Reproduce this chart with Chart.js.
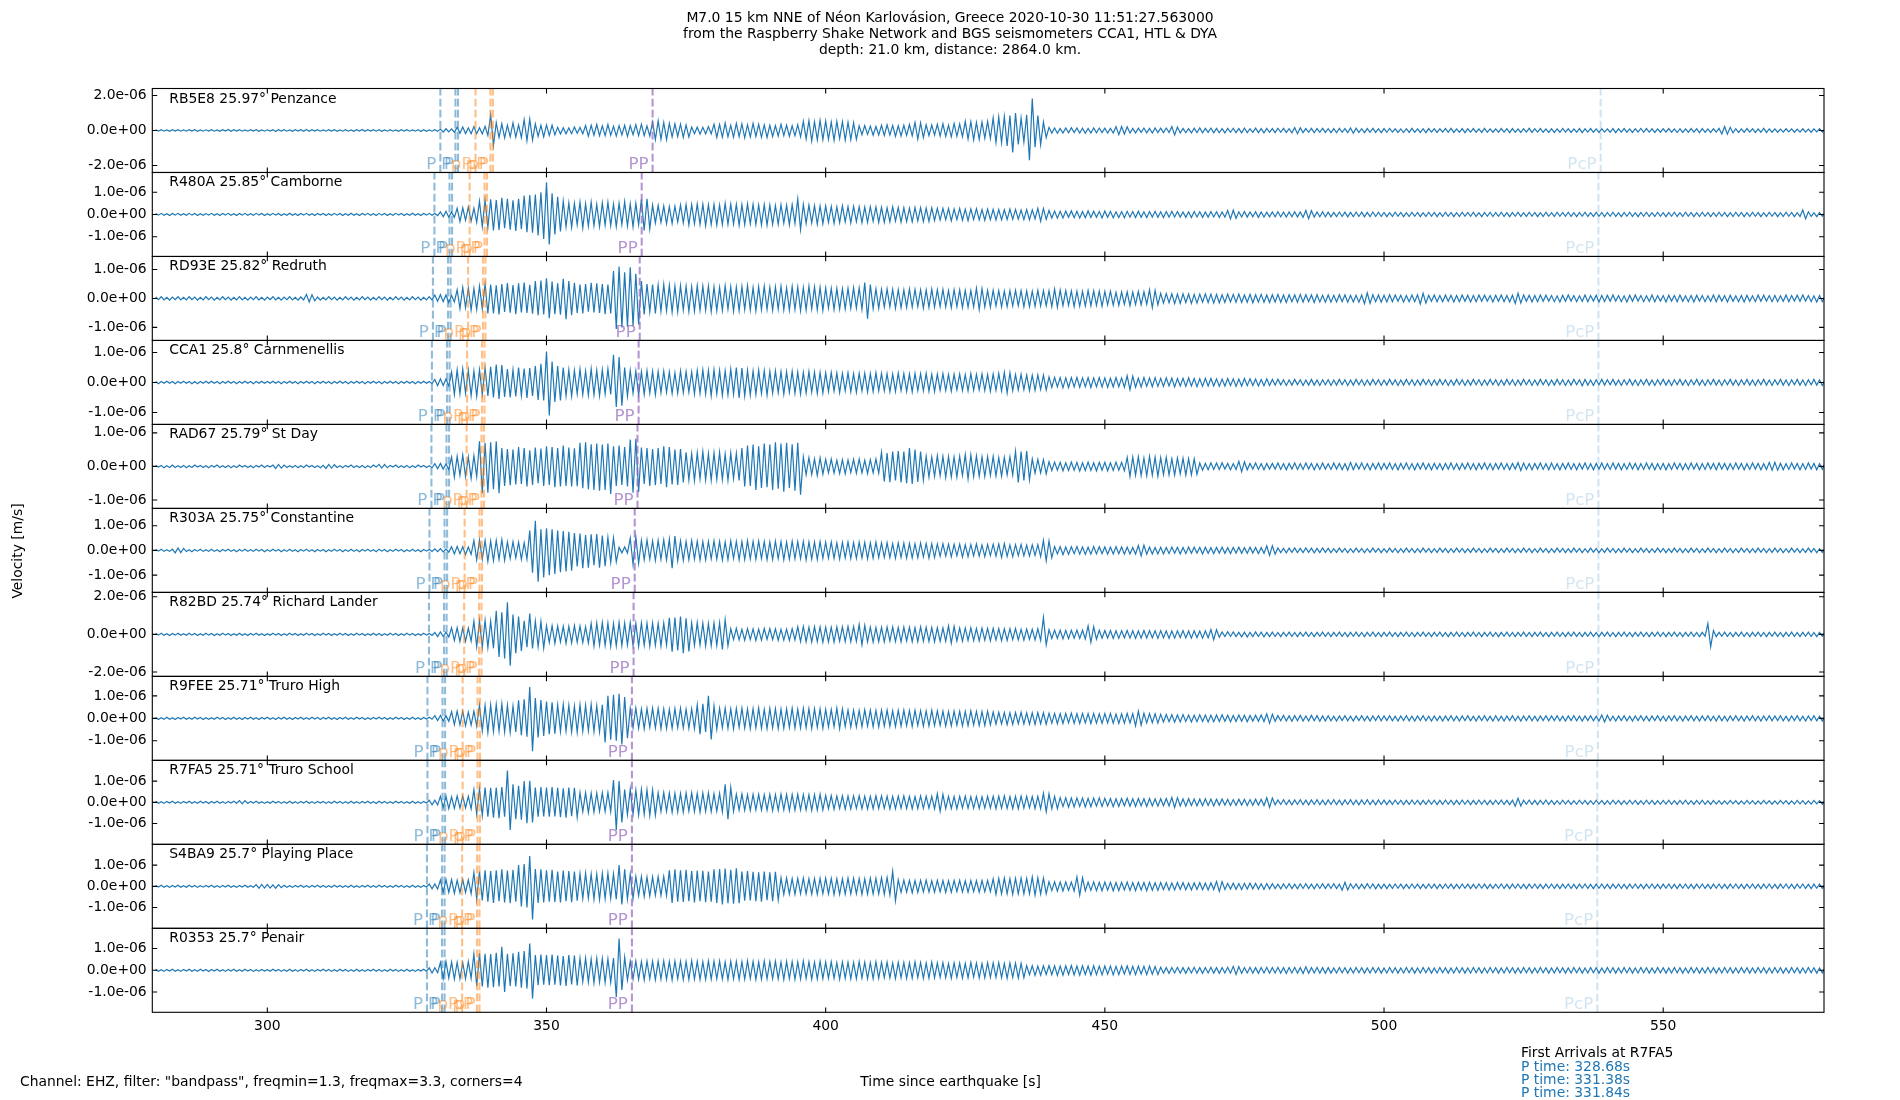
<!DOCTYPE html>
<html><head><meta charset="utf-8">
<script src="https://cdn.jsdelivr.net/npm/chart.js@4.4.1/dist/chart.umd.min.js"></script>
<style>html,body{margin:0;padding:0;background:#fff;}#wrap{position:relative;width:1900px;height:1100px;}canvas{display:block;}</style>
</head><body><div id="wrap"><canvas id="c" width="1900" height="1100"></canvas></div>
<script>
// ---------------- data ----------------
const T0 = 280, DT = 0.5;            // sample grid of the traces [s]
const AMP_UNIT = 1e-8;               // trace values are in 1e-8 m/s
const codes = ["RB5E8","R480A","RD93E","CCA1","RAD67","R303A","R82BD","R9FEE","R7FA5","S4BA9","R0353"];
const distances = ["25.97","25.85","25.82","25.8","25.79","25.75","25.74","25.71","25.71","25.7","25.7"];
const places = ["Penzance","Camborne","Redruth","Carnmenellis","St Day","Constantine","Richard Lander","Truro High","Truro School","Playing Place","Penair"];
const yLimits = [240,189,145,140,125,170,223,187,198,198,193];
const yTickValues = [[-200,0,200],[-100,0,100],[-100,0,100],[-100,0,100],[-100,0,100],[-100,0,100],[-200,0,200],[-100,0,100],[-100,0,100],[-100,0,100],[-100,0,100]];
const xTickValues = [300,350,400,450,500,550];
const xMin = 279.4, xMax = 578.8;

const P_first  = [330.99,329.93,329.66,329.48,329.39,329.04,328.95,328.68,328.68,328.59,328.59];
const P_second = [333.69,332.63,332.36,332.18,332.09,331.74,331.65,331.38,331.38,331.29,331.29];
const P_third  = [334.15,333.09,332.82,332.64,332.55,332.20,332.11,331.84,331.84,331.75,331.75];
const pP_first  = [337.29,336.23,335.96,335.78,335.69,335.34,335.25,334.98,334.98,334.89,334.89];
const pP_second = [339.96,338.90,338.63,338.45,338.36,338.01,337.92,337.65,337.65,337.56,337.56];
const pP_third  = [340.40,339.34,339.07,338.89,338.80,338.45,338.36,338.09,338.09,338.00,338.00];
const PP_times  = [369.0,367.05,366.7,366.5,366.3,365.8,365.6,365.3,365.3,365.3,365.3];
const PcP_times = [538.8,538.4,538.4,538.4,538.4,538.4,538.4,538.3,538.2,538.2,538.2];

const titleLines = ["M7.0 15 km NNE of Néon Karlovásion, Greece 2020-10-30 11:51:27.563000",
  "from the Raspberry Shake Network and BGS seismometers CCA1, HTL & DYA",
  "depth: 21.0 km, distance: 2864.0 km."];
const arrivalsTitle = "First Arrivals at R7FA5";
const arrivalTimes = ["328.68","331.38","331.84"];

const trace_RB5E8 = [
4,-3,5,-4,3,-5,4,-3,5,-4,3,-4,5,-3,4,-5,3,-4,4,-3,
5,-4,3,-5,4,-3,6,-5,4,-3,5,-4,3,-4,5,-3,4,-5,3,-4,
4,-3,5,-6,4,-3,5,-4,3,-5,4,-3,5,-4,6,-5,4,-3,5,-4,
3,-4,5,-3,4,-5,3,-4,5,-4,3,-5,4,-3,6,-5,4,-3,5,-4,
4,-5,3,-4,5,-4,3,-5,4,-3,5,-4,3,-4,5,-6,4,-5,3,-4,
4,-5,8,-9,10,-8,9,-10,18,-16,20,-17,15,-19,22,-18,16,-20,24,-28,
90,-85,45,-40,38,-42,30,-36,44,-38,32,-40,62,-58,65,-55,38,-34,30,-36,
32,-28,30,-25,18,-20,16,-19,15,-18,20,-16,17,-19,28,-32,30,-27,34,-30,
26,-30,34,-28,24,-32,28,-25,30,-34,27,-24,32,-29,36,-30,26,-32,48,-52,
55,-50,46,-52,40,-36,38,-34,36,-40,32,-38,20,-18,19,-21,18,-20,22,-19,
36,-40,34,-38,42,-36,30,-38,40,-35,38,-42,33,-37,40,-34,36,-39,32,-40,
30,-34,28,-32,35,-29,31,-33,27,-30,33,-36,52,-48,56,-60,50,-54,58,-52,
54,-50,48,-56,52,-46,50,-55,47,-52,44,-50,26,-24,28,-22,25,-27,23,-26,
30,-28,32,-26,29,-33,27,-31,30,-28,34,-30,46,-50,44,-40,32,-29,31,-27,
35,-32,38,-34,30,-36,40,-33,37,-35,52,-48,50,-54,46,-50,48,-44,52,-46,
72,-68,77,-70,80,-88,85,-125,100,-80,72,-66,90,-170,183,-95,85,-80,48,-40,
18,-15,14,-16,12,-15,14,-13,16,-12,15,-14,13,-16,12,-14,15,-13,14,-12,
13,-15,12,-14,22,-24,23,-20,21,-14,12,-15,13,-11,14,-13,12,-14,15,-12,
13,-12,14,-11,22,-25,20,-14,12,-13,11,-14,13,-12,15,-13,12,-11,14,-13,
12,-13,11,-14,12,-10,13,-12,11,-13,14,-12,10,-11,13,-12,11,-14,12,-10,
11,-12,13,-10,12,-11,10,-13,16,-18,15,-12,11,-10,12,-13,11,-10,12,-11,
10,-12,11,-13,12,-10,11,-12,14,-16,13,-11,10,-12,11,-10,12,-11,10,-12,
11,-10,12,-9,10,-11,9,-12,10,-11,12,-10,9,-11,10,-12,11,-9,10,-11,
10,-9,11,-10,12,-11,9,-10,11,-12,10,-9,11,-10,9,-11,12,-10,9,-10,
9,-10,11,-9,10,-12,11,-10,9,-11,10,-9,12,-11,10,-9,11,-10,9,-11,
10,-11,9,-10,12,-9,10,-11,9,-10,11,-12,10,-9,11,-10,9,-11,10,-9,
9,-10,11,-12,10,-9,11,-10,9,-11,10,-9,12,-10,11,-9,10,-11,9,-10,
10,-9,11,-10,9,-12,10,-11,9,-10,11,-9,10,-12,11,-10,9,-11,10,-9,
12,-20,23,-21,18,-13,10,-11,9,-10,11,-9,10,-11,9,-10,12,-11,9,-10,
9,-10,8,-9,10,-8,9,-10,8,-9,10,-9,8,-10,9,-8,10,-9,8,-9];

const trace_R480A = [
4,-3,5,-4,3,-5,4,-3,5,-4,3,-4,5,-3,4,-5,3,-4,4,-3,
5,-4,3,-5,4,-3,5,-4,3,-5,4,-3,5,-4,3,-4,5,-3,4,-5,
3,-4,5,-3,4,-5,3,-4,5,-4,3,-5,4,-3,5,-4,3,-5,4,-3,
4,-5,3,-4,5,-3,4,-5,3,-4,5,-4,3,-5,4,-3,5,-4,3,-5,
5,-3,4,-5,3,-4,5,-3,4,-5,3,-4,5,-4,3,-5,4,-3,5,-4,
4,-5,12,-10,14,-12,11,-13,28,-32,30,-26,34,-30,28,-35,60,-55,65,-58,
68,-72,65,-70,75,-62,70,-68,64,-74,70,-66,85,-80,88,-82,90,-95,100,-110,
145,-135,95,-90,80,-76,60,-55,52,-58,50,-46,55,-60,48,-52,56,-50,45,-54,
52,-48,55,-50,46,-54,50,-45,58,-52,48,-55,50,-46,68,-72,70,-65,42,-38,
40,-36,38,-42,35,-40,37,-34,42,-38,44,-47,45,-42,48,-44,46,-50,43,-45,
45,-48,42,-46,50,-44,47,-43,45,-49,44,-46,48,-42,46,-45,43,-47,44,-48,
42,-45,40,-44,43,-39,41,-46,44,-40,70,-68,45,-40,42,-38,40,-44,38,-41,
38,-35,36,-40,34,-37,39,-33,35,-38,36,-32,34,-37,33,-36,35,-31,34,-36,
32,-35,30,-33,34,-29,31,-34,30,-32,28,-33,31,-29,30,-32,28,-31,30,-27,
27,-25,28,-24,26,-29,25,-23,27,-26,24,-28,25,-23,26,-24,22,-26,24,-23,
23,-25,22,-24,21,-23,24,-22,23,-21,20,-23,22,-24,21,-20,28,-30,27,-22,
18,-16,15,-17,14,-16,15,-13,16,-15,14,-16,13,-15,16,-14,15,-13,14,-16,
15,-13,14,-15,12,-14,13,-15,14,-12,13,-14,15,-13,12,-14,13,-12,14,-13,
12,-14,13,-12,14,-11,13,-12,11,-13,12,-14,13,-11,12,-13,11,-12,13,-11,
12,-13,11,-12,18,-20,19,-17,12,-11,13,-12,11,-10,12,-13,11,-12,10,-11,
11,-10,12,-11,10,-12,11,-10,12,-11,11,-13,18,-19,17,-12,11,-10,12,-11,
10,-11,9,-10,11,-9,10,-11,9,-10,11,-9,10,-11,9,-10,11,-9,10,-9,
9,-10,8,-9,10,-8,9,-10,8,-9,10,-8,9,-10,8,-9,10,-8,9,-10,
8,-9,10,-8,9,-10,8,-9,10,-8,9,-8,10,-9,8,-10,9,-8,10,-9,
9,-8,10,-9,8,-10,9,-8,10,-9,8,-9,10,-8,9,-10,8,-9,10,-8,
8,-9,10,-8,9,-8,10,-9,8,-10,9,-8,10,-9,8,-9,10,-8,9,-10,
9,-8,10,-9,8,-10,9,-8,10,-9,8,-10,9,-8,10,-9,8,-9,10,-8,
8,-10,9,-8,10,-9,8,-9,10,-8,9,-10,8,-9,10,-8,9,-10,8,-9,
10,-8,9,-10,8,-9,10,-8,9,-10,8,-9,10,-8,9,-10,8,-9,10,-8,
9,-10,8,-9,10,-8,9,-10,8,-9,20,-19,12,-9,8,-10,9,-8,10,-9];

const trace_RD93E = [
5,-4,6,-5,4,-6,5,-4,6,-5,4,-5,6,-4,5,-6,4,-5,6,-4,
5,-6,4,-5,6,-4,5,-6,4,-5,6,-5,4,-6,5,-4,6,-5,4,-6,
5,-4,6,-5,4,-6,5,-4,6,-5,4,-6,5,-5,14,-12,13,-8,5,-6,
4,-5,6,-4,5,-6,4,-5,6,-4,5,-6,4,-5,6,-4,5,-6,4,-5,
6,-4,5,-6,4,-5,6,-4,5,-6,4,-5,6,-4,5,-6,4,-5,6,-5,
12,-10,13,-11,12,-14,10,-12,30,-35,38,-32,36,-40,34,-38,42,-36,50,-52,
48,-52,45,-55,50,-47,53,-49,46,-54,52,-48,55,-50,47,-53,60,-58,62,-55,
70,-68,58,-54,52,-56,68,-72,60,-58,54,-50,48,-52,50,-46,54,-48,52,-50,
50,-54,48,-52,95,-105,110,-100,90,-98,108,-95,85,-90,60,-55,50,-46,48,-52,
46,-44,48,-42,45,-47,43,-46,44,-40,42,-45,40,-43,44,-41,42,-40,43,-45,
40,-42,38,-41,43,-37,40,-44,39,-42,41,-38,44,-40,37,-42,40,-39,42,-38,
38,-41,40,-37,42,-39,36,-40,41,-38,39,-42,37,-40,42,-36,40,-39,38,-41,
36,-33,35,-38,34,-37,33,-36,35,-34,37,-33,36,-38,55,-70,48,-35,33,-34,
32,-30,33,-29,31,-34,30,-32,29,-31,33,-30,31,-28,30,-33,29,-31,32,-30,
30,-28,31,-29,27,-32,30,-28,29,-31,28,-30,27,-29,35,-38,34,-29,28,-30,
28,-26,27,-29,25,-28,27,-26,28,-25,27,-29,26,-28,25,-27,28,-26,27,-25,
26,-28,32,-30,29,-25,27,-24,26,-28,25,-27,24,-26,27,-25,26,-24,25,-27,
24,-22,25,-23,21,-24,22,-20,23,-25,22,-21,24,-22,23,-20,30,-32,28,-22,
18,-16,17,-15,16,-18,15,-17,16,-14,15,-17,14,-16,15,-13,16,-14,15,-16,
14,-15,13,-14,15,-12,14,-13,15,-14,12,-13,14,-15,13,-12,14,-13,12,-14,
13,-12,14,-13,12,-14,13,-11,12,-13,14,-12,13,-11,12,-14,13,-12,11,-13,
12,-13,11,-12,13,-11,12,-13,11,-12,11,-13,12,-18,19,-17,13,-11,12,-13,
11,-12,13,-11,12,-10,11,-12,10,-11,12,-11,13,-19,18,-16,11,-10,12,-11,
10,-11,12,-10,11,-12,10,-11,12,-10,11,-12,10,-11,12,-10,11,-9,10,-12,
11,-10,12,-11,10,-12,11,-17,18,-16,12,-10,11,-12,10,-11,12,-10,11,-9,
10,-11,9,-12,11,-10,12,-9,10,-11,9,-10,12,-11,10,-9,11,-12,10,-11,
11,-10,12,-9,10,-11,9,-12,11,-10,12,-9,10,-11,9,-10,12,-11,10,-9,
10,-12,11,-9,10,-11,12,-10,9,-11,10,-12,11,-9,10,-11,9,-10,12,-11,
11,-9,10,-12,11,-10,9,-11,10,-12,11,-10,9,-11,12,-10,11,-9,10,-11,
10,-11,9,-10,12,-11,10,-9,11,-10,12,-9,10,-11,9,-12,10,-11,9,-10];

const trace_CCA1 = [
3,-4,3,-3,4,-3,3,-4,3,-3,4,-3,3,-4,3,-4,3,-3,4,-3,
4,-3,3,-4,3,-3,4,-3,3,-4,3,-3,4,-3,3,-4,3,-3,4,-3,
3,-3,4,-3,3,-4,3,-3,4,-3,3,-4,3,-3,4,-3,3,-4,3,-3,
4,-3,3,-4,3,-3,4,-3,3,-4,3,-3,4,-3,3,-4,3,-3,4,-3,
3,-4,3,-3,4,-3,3,-4,3,-3,4,-3,3,-4,3,-3,4,-3,3,-4,
10,-11,12,-10,11,-12,35,-40,42,-38,45,-36,40,-44,38,-46,42,-40,48,-45,
52,-50,60,-55,58,-48,45,-50,42,-47,50,-44,46,-52,48,-45,55,-58,62,-60,
103,-110,70,-65,55,-60,50,-45,42,-46,40,-38,44,-40,38,-42,45,-41,40,-44,
42,-38,45,-40,92,-82,85,-78,50,-45,40,-36,38,-42,36,-40,39,-35,37,-41,
36,-34,38,-33,35,-37,32,-36,38,-34,36,-32,35,-38,40,-36,42,-38,40,-44,
42,-38,40,-43,38,-41,44,-39,50,-52,48,-45,40,-42,38,-40,41,-37,39,-42,
37,-35,38,-34,36,-39,35,-33,37,-36,34,-38,33,-35,36,-32,34,-37,33,-35,
32,-30,33,-29,31,-34,30,-28,32,-31,29,-33,30,-28,31,-32,29,-30,32,-28,
30,-28,29,-31,28,-30,31,-27,29,-30,28,-31,30,-27,29,-28,30,-29,27,-30,
28,-26,29,-27,26,-29,27,-25,28,-27,26,-28,29,-26,27,-25,28,-27,26,-29,
28,-26,30,-28,33,-35,32,-27,26,-25,27,-24,25,-27,24,-26,25,-23,24,-25,
18,-16,17,-15,16,-18,15,-17,16,-15,17,-16,15,-14,16,-17,15,-14,16,-15,
15,-16,14,-15,16,-14,15,-16,22,-24,21,-16,14,-15,16,-13,15,-14,16,-13,
14,-13,15,-12,14,-15,13,-12,14,-13,15,-12,13,-14,12,-13,14,-12,13,-12,
12,-13,11,-12,13,-11,12,-13,11,-12,13,-11,12,-10,11,-12,10,-11,12,-10,
10,-9,11,-8,9,-10,8,-9,10,-8,9,-10,8,-9,10,-9,8,-10,9,-8,
9,-10,8,-9,10,-8,9,-10,8,-9,10,-8,9,-10,8,-9,10,-8,9,-10,
8,-9,10,-8,9,-10,8,-9,10,-8,9,-10,8,-9,10,-8,9,-10,8,-9,
10,-8,9,-10,8,-9,10,-8,9,-10,8,-9,10,-8,9,-10,8,-9,10,-8,
9,-10,8,-9,10,-8,9,-10,8,-9,10,-8,9,-10,8,-9,10,-8,9,-10,
8,-9,10,-8,9,-10,8,-9,10,-8,9,-11,10,-9,8,-10,9,-8,10,-9,
9,-8,10,-9,8,-10,9,-8,10,-9,8,-10,9,-8,10,-9,8,-10,9,-8,
10,-9,8,-10,9,-8,10,-9,8,-10,9,-8,10,-9,8,-10,9,-8,10,-9,
8,-10,9,-8,10,-9,8,-10,9,-8,10,-9,8,-10,9,-8,10,-9,8,-10,
9,-8,10,-9,8,-10,9,-8,10,-9,8,-10,9,-8,10,-9,8,-10,9,-8];

const trace_RAD67 = [
3,-2,3,-4,2,-3,4,-3,2,-3,3,-4,2,-3,4,-2,3,-3,2,-4,
3,-2,4,-3,2,-3,3,-4,2,-3,4,-2,3,-3,2,-4,3,-2,4,-3,
3,-2,4,-6,6,-5,4,-3,2,-3,3,-4,2,-3,4,-2,3,-3,2,-4,
3,-6,6,-5,5,-3,2,-4,3,-2,4,-3,2,-3,3,-4,2,-3,4,-2,
6,-5,6,-4,3,-2,4,-3,2,-3,3,-4,2,-3,4,-2,3,-3,2,-4,
8,-7,9,-8,7,-9,28,-32,30,-26,34,-30,28,-35,32,-30,75,-80,70,-78,
72,-68,75,-80,55,-58,52,-56,50,-54,58,-52,55,-60,48,-55,56,-50,53,-58,
60,-55,58,-62,55,-60,62,-58,56,-60,54,-59,70,-65,72,-68,66,-70,68,-72,
65,-70,68,-82,60,-58,62,-55,58,-60,80,-78,82,-76,56,-52,55,-58,52,-56,
55,-52,60,-62,58,-54,50,-55,52,-48,42,-40,38,-42,40,-37,44,-40,38,-41,
40,-38,42,-39,37,-41,40,-36,39,-42,55,-60,62,-58,65,-70,60,-64,68,-62,
65,-70,72,-66,68,-75,70,-64,66,-72,70,-84,28,-25,26,-24,22,-27,25,-23,
21,-19,22,-20,18,-21,20,-22,19,-18,21,-20,22,-19,18,-21,20,-19,22,-20,
42,-45,40,-47,44,-42,46,-48,44,-50,55,-52,50,-46,44,-41,30,-32,28,-30,
32,-28,30,-33,29,-31,28,-32,30,-27,35,-37,34,-30,31,-29,28,-30,29,-27,
30,-28,26,-29,27,-25,28,-26,45,-48,44,-42,46,-40,22,-20,21,-19,20,-22,
14,-12,13,-11,12,-13,11,-12,13,-11,12,-14,11,-12,13,-12,11,-13,12,-11,
12,-13,11,-12,13,-11,12,-13,27,-30,28,-26,29,-27,25,-28,30,-26,27,-29,
26,-24,27,-25,23,-26,25,-22,24,-26,23,-25,22,-24,10,-11,9,-10,11,-9,
10,-9,11,-8,9,-10,8,-9,15,-16,14,-10,9,-8,10,-9,8,-10,9,-8,
9,-8,10,-9,8,-10,9,-8,10,-9,8,-9,10,-8,9,-10,8,-9,10,-8,
8,-9,10,-8,9,-10,8,-11,12,-10,9,-8,10,-9,8,-10,9,-8,10,-9,
9,-8,10,-9,8,-10,9,-8,10,-9,8,-10,9,-8,10,-9,8,-10,9,-8,
8,-10,9,-8,10,-9,8,-10,9,-8,10,-9,8,-10,9,-8,10,-9,8,-10,
9,-8,10,-9,8,-10,9,-8,11,-12,10,-9,8,-10,9,-8,10,-9,8,-10,
10,-9,8,-10,9,-8,10,-9,8,-10,9,-8,10,-9,8,-10,9,-8,10,-9,
8,-9,10,-8,9,-10,8,-9,10,-8,9,-10,8,-9,10,-8,9,-10,8,-9,
9,-10,8,-9,10,-8,9,-10,8,-9,10,-8,9,-10,8,-9,10,-8,9,-10,
10,-8,9,-10,8,-9,10,-8,9,-10,8,-9,10,-8,9,-10,8,-9,12,-11,
12,-11,9,-10,8,-9,10,-8,9,-10,8,-9,10,-8,9,-10,8,-9,10,-8];

const trace_R303A = [
4,-3,5,-4,3,-4,5,-10,10,-9,8,-4,3,-5,4,-3,5,-4,3,-4,
5,-4,3,-5,4,-3,5,-4,3,-5,4,-3,5,-4,3,-4,5,-3,4,-5,
3,-4,5,-3,4,-5,3,-4,5,-4,3,-5,4,-3,5,-4,3,-5,4,-3,
4,-5,3,-4,5,-3,4,-5,3,-4,5,-4,3,-5,4,-3,5,-4,3,-5,
5,-3,4,-5,3,-4,5,-3,4,-5,3,-4,5,-4,3,-5,4,-3,5,-4,
6,-5,7,-6,5,-7,15,-14,16,-13,15,-17,14,-16,40,-38,42,-36,40,-44,
38,-42,40,-36,44,-40,34,-32,35,-30,33,-36,31,-35,80,-90,120,-127,85,-110,
90,-100,85,-95,80,-88,78,-85,75,-82,70,-65,68,-72,62,-70,65,-60,66,-70,
60,-64,52,-48,50,-46,12,-10,14,-11,50,-57,55,-52,40,-38,42,-36,38,-41,
40,-36,42,-38,45,-72,58,-42,38,-40,36,-38,40,-35,37,-39,35,-38,36,-34,
38,-35,36,-39,34,-37,38,-33,36,-38,35,-37,39,-34,36,-35,38,-33,35,-37,
34,-36,37,-33,35,-38,33,-36,37,-34,35,-33,36,-38,34,-35,33,-37,35,-32,
33,-31,34,-32,30,-35,32,-30,34,-33,31,-32,33,-30,32,-34,30,-31,33,-29,
30,-28,31,-29,27,-32,30,-28,29,-31,28,-30,27,-29,30,-26,28,-31,27,-29,
26,-24,27,-23,25,-26,24,-22,25,-27,23,-25,24,-22,26,-23,22,-25,24,-21,
25,-23,26,-28,27,-24,22,-25,23,-21,24,-22,21,-23,22,-20,23,-25,40,-42,
38,-30,16,-14,15,-17,14,-16,15,-13,16,-15,14,-16,13,-15,16,-14,15,-13,
14,-15,13,-14,15,-13,14,-15,13,-14,12,-15,20,-22,21,-15,13,-14,12,-14,
13,-14,12,-13,14,-12,13,-14,12,-13,14,-12,13,-11,12,-14,13,-12,11,-13,
12,-11,13,-12,11,-13,12,-11,13,-12,11,-12,13,-11,12,-13,11,-12,18,-20,
19,-15,10,-9,8,-10,9,-8,10,-9,8,-9,10,-8,9,-10,8,-9,10,-8,
8,-9,7,-8,9,-7,8,-9,7,-8,9,-7,8,-9,7,-8,9,-7,8,-9,
7,-8,9,-7,8,-9,7,-8,9,-7,8,-9,7,-8,9,-7,8,-9,7,-8,
9,-7,8,-9,7,-8,9,-7,8,-9,7,-8,9,-7,8,-9,7,-8,9,-7,
8,-9,7,-8,9,-7,8,-9,7,-8,9,-7,8,-9,7,-8,9,-7,8,-9,
7,-8,9,-7,8,-9,7,-8,9,-7,8,-9,7,-8,9,-7,8,-9,7,-8,
9,-7,8,-9,7,-8,9,-7,8,-9,7,-8,9,-7,8,-9,7,-8,9,-7,
8,-9,7,-8,9,-7,8,-9,7,-8,9,-7,8,-9,7,-8,9,-7,8,-9,
7,-8,9,-7,8,-9,7,-8,9,-7,8,-9,7,-8,9,-7,8,-9,7,-8,
9,-7,8,-9,7,-8,9,-7,8,-9,7,-8,9,-7,8,-9,7,-8,9,-7];

const trace_R82BD = [
5,-4,6,-5,4,-6,5,-4,6,-5,4,-5,6,-4,5,-6,4,-5,6,-4,
5,-6,4,-5,6,-4,5,-6,4,-5,6,-5,4,-6,5,-4,6,-5,4,-6,
4,-5,6,-4,5,-6,4,-5,6,-4,5,-6,4,-5,6,-4,5,-6,4,-5,
6,-4,5,-6,4,-5,6,-4,5,-6,4,-5,6,-4,5,-6,4,-5,6,-5,
5,-6,4,-5,6,-4,5,-6,4,-5,6,-4,5,-6,4,-5,6,-4,5,-6,
10,-12,13,-11,12,-14,35,-32,36,-38,34,-37,33,-36,70,-65,72,-68,75,-70,
70,-74,125,-120,118,-128,170,-166,105,-100,95,-88,72,-68,110,-75,70,-65,68,-72,
45,-42,46,-48,44,-40,43,-47,42,-45,46,-41,44,-43,40,-45,58,-62,60,-56,
62,-58,60,-64,57,-61,63,-59,60,-56,62,-60,58,-63,61,-57,59,-62,60,-58,
58,-62,60,-56,88,-92,90,-85,95,-100,86,-90,60,-58,62,-56,59,-61,57,-60,
60,-58,62,-80,78,-60,30,-28,32,-29,27,-31,30,-28,29,-32,28,-30,31,-27,
30,-28,29,-31,27,-30,28,-32,30,-29,40,-38,42,-39,37,-41,40,-38,39,-42,
38,-40,37,-41,39,-36,40,-38,42,-39,41,-37,53,-55,48,-40,38,-41,36,-39,
37,-40,38,-35,39,-37,36,-40,38,-35,37,-39,35,-38,40,-36,37,-38,36,-39,
35,-37,34,-36,44,-46,42,-35,33,-36,34,-32,35,-33,31,-34,33,-30,32,-34,
32,-30,31,-33,29,-32,30,-28,31,-29,27,-30,28,-26,27,-29,30,-32,90,-55,
25,-22,23,-21,22,-24,21,-23,22,-20,23,-21,22,-24,45,-42,40,-25,22,-20,
21,-19,20,-22,19,-21,20,-18,21,-20,19,-21,18,-20,21,-19,20,-18,19,-21,
20,-18,19,-21,18,-20,19,-17,20,-19,18,-20,19,-17,18,-20,19,-18,26,-28,
25,-15,13,-12,14,-11,13,-12,11,-13,12,-14,11,-12,13,-11,12,-13,11,-12,
12,-11,10,-12,11,-10,12,-11,10,-12,11,-10,12,-11,10,-12,11,-10,12,-11,
10,-12,11,-10,12,-11,10,-12,11,-10,12,-11,10,-12,11,-10,12,-11,10,-12,
11,-10,12,-11,10,-12,11,-10,12,-11,10,-12,11,-10,12,-11,10,-12,11,-10,
12,-11,10,-12,11,-10,12,-11,10,-12,11,-10,12,-11,10,-12,11,-10,12,-11,
10,-12,11,-10,12,-11,10,-12,11,-10,12,-11,10,-12,11,-10,12,-11,10,-12,
11,-10,12,-11,10,-12,11,-10,12,-11,10,-12,11,-10,12,-11,10,-12,11,-10,
12,-11,10,-12,11,-10,12,-11,10,-12,11,-10,12,-11,10,-12,11,-10,12,-11,
10,-12,11,-10,12,-11,10,-12,11,-10,12,-11,10,-12,11,-10,57,-66,20,-12,
11,-10,12,-11,10,-12,11,-10,12,-11,10,-12,11,-10,12,-11,10,-12,11,-10,
12,-11,10,-12,11,-10,12,-11,10,-12,11,-10,12,-11,10,-12,11,-10,12,-11];

const trace_R9FEE = [
4,-5,3,-4,5,-4,3,-5,4,-3,5,-4,3,-4,5,-3,4,-5,3,-4,
3,-4,5,-3,4,-5,3,-4,5,-4,3,-5,4,-3,5,-4,3,-5,4,-3,
5,-4,3,-5,4,-3,5,-4,3,-5,4,-3,5,-4,3,-4,5,-3,4,-5,
4,-3,5,-4,3,-5,4,-3,5,-4,3,-4,5,-3,4,-5,3,-4,4,-3,
5,-3,4,-5,3,-4,5,-3,4,-5,3,-4,5,-4,3,-5,4,-3,5,-4,
12,-10,13,-12,11,-13,30,-28,32,-29,31,-33,28,-30,32,-35,60,-55,58,-62,
60,-58,62,-56,64,-60,58,-62,55,-60,80,-75,85,-82,140,-146,90,-85,82,-78,
75,-70,72,-68,60,-58,62,-56,58,-60,55,-62,60,-57,58,-55,62,-59,56,-60,
60,-107,100,-95,105,-100,110,-116,95,-88,45,-42,46,-44,42,-47,44,-40,45,-43,
44,-46,42,-45,40,-44,43,-41,45,-42,40,-44,42,-46,60,-70,65,-60,100,-94,
55,-48,45,-42,46,-44,42,-47,44,-40,45,-43,41,-46,43,-42,46,-44,40,-45,
44,-42,43,-45,41,-44,42,-40,45,-43,40,-42,44,-41,43,-45,42,-40,41,-44,
40,-38,39,-37,45,-46,42,-36,37,-39,36,-38,35,-37,38,-34,36,-37,35,-38,
36,-34,37,-35,33,-36,35,-34,36,-33,34,-36,35,-32,34,-35,33,-34,36,-32,
33,-31,32,-34,30,-33,32,-30,31,-33,30,-32,33,-29,31,-32,30,-31,32,-29,
28,-26,27,-25,26,-28,25,-27,26,-24,27,-25,24,-26,25,-27,26,-24,25,-26,
23,-21,22,-24,21,-23,22,-20,23,-22,21,-23,22,-20,21,-23,22,-21,20,-22,
21,-20,22,-21,19,-22,20,-21,22,-20,21,-33,32,-30,22,-20,21,-19,20,-21,
18,-16,17,-15,16,-17,15,-16,17,-14,15,-16,14,-15,16,-14,15,-16,14,-15,
15,-14,16,-13,14,-15,13,-14,15,-13,14,-15,13,-12,14,-13,15,-14,20,-22,
18,-13,12,-11,13,-12,11,-13,12,-11,13,-12,11,-12,13,-11,12,-13,11,-12,
12,-11,10,-12,11,-10,12,-11,10,-12,11,-10,12,-11,10,-12,11,-10,12,-11,
11,-10,12,-11,10,-12,11,-10,12,-11,10,-12,11,-10,12,-11,10,-12,11,-10,
10,-12,11,-10,12,-11,10,-12,11,-10,12,-11,10,-12,11,-10,12,-11,10,-12,
12,-11,10,-12,11,-10,12,-11,10,-12,11,-10,12,-11,10,-12,11,-10,12,-11,
11,-10,12,-11,10,-12,11,-10,12,-11,10,-12,11,-10,12,-11,10,-12,15,-16,
14,-11,10,-12,11,-10,12,-11,10,-12,11,-10,12,-11,10,-12,11,-10,12,-11,
10,-12,11,-10,12,-11,10,-12,11,-10,12,-11,10,-12,11,-10,12,-11,10,-12,
12,-11,10,-12,11,-10,12,-11,10,-12,11,-10,12,-11,10,-12,11,-10,12,-11,
11,-10,12,-11,10,-12,11,-10,12,-11,10,-12,11,-10,12,-11,10,-12,11,-10];

const trace_R7FA5 = [
5,-4,3,-5,4,-3,5,-4,3,-5,4,-3,5,-4,3,-4,5,-3,4,-5,
4,-3,5,-4,3,-5,4,-3,5,-4,8,-7,8,-5,4,-3,5,-4,3,-5,
3,-4,5,-3,4,-5,3,-4,5,-4,3,-5,4,-3,5,-4,3,-5,4,-3,
4,-5,3,-4,5,-3,4,-5,3,-4,5,-4,3,-5,4,-3,5,-4,3,-5,
5,-3,4,-5,3,-4,5,-3,4,-5,3,-4,5,-4,3,-5,4,-3,10,-12,
10,-12,28,-25,27,-30,26,-28,30,-27,29,-26,28,-31,60,-55,65,-62,70,-68,
68,-72,70,-75,72,-68,150,-130,85,-80,78,-82,100,-98,102,-95,70,-68,72,-66,
70,-68,72,-66,68,-70,66,-72,70,-65,68,-70,46,-44,45,-48,43,-46,44,-42,
45,-43,46,-44,105,-130,100,-95,60,-58,62,-56,58,-60,61,-57,59,-62,58,-60,
45,-43,46,-42,44,-47,43,-45,42,-46,44,-41,45,-43,42,-46,44,-42,45,-43,
40,-42,42,-44,85,-80,70,-42,38,-36,39,-37,36,-38,37,-35,38,-36,35,-37,
37,-39,36,-38,38,-35,37,-39,36,-37,38,-35,37,-36,35,-38,36,-37,38,-35,
32,-30,31,-33,30,-29,31,-32,29,-31,30,-28,31,-30,29,-31,28,-30,31,-29,
30,-28,29,-31,28,-30,29,-27,30,-29,28,-30,27,-29,30,-28,29,-27,28,-30,
40,-42,38,-30,28,-29,27,-30,28,-26,29,-27,26,-28,27,-29,26,-27,28,-26,
28,-30,29,-27,30,-28,27,-29,28,-30,29,-27,28,-26,27,-29,28,-30,42,-44,
40,-30,28,-30,22,-20,21,-23,20,-22,21,-19,20,-22,19,-21,20,-18,21,-19,
19,-17,18,-20,17,-19,18,-16,19,-18,17,-19,18,-16,17,-19,18,-17,16,-18,
17,-16,18,-17,23,-24,22,-17,16,-18,17,-15,16,-17,15,-16,17,-15,16,-17,
15,-14,16,-13,14,-15,13,-14,15,-13,14,-15,13,-14,15,-13,14,-15,22,-24,
20,-12,11,-10,12,-11,10,-12,11,-10,12,-11,10,-12,11,-10,12,-11,10,-12,
11,-10,12,-11,10,-12,11,-10,12,-11,10,-12,11,-10,12,-11,10,-12,11,-10,
10,-11,9,-10,11,-9,10,-11,9,-10,11,-9,10,-11,9,-10,11,-9,10,-11,
9,-10,11,-9,10,-11,9,-10,11,-9,10,-11,9,-10,11,-9,10,-11,9,-10,
10,-9,11,-10,9,-11,10,-18,19,-17,10,-9,11,-10,9,-11,10,-9,11,-10,
9,-10,8,-9,10,-8,9,-10,8,-9,10,-8,9,-10,8,-9,10,-8,9,-10,
8,-9,10,-8,9,-10,8,-9,10,-8,9,-10,8,-9,10,-8,9,-10,8,-9,
9,-8,10,-9,8,-10,9,-8,10,-9,8,-10,9,-8,10,-9,8,-10,9,-8,
8,-9,7,-8,9,-7,8,-9,7,-8,9,-7,8,-9,7,-8,9,-7,8,-9,
7,-8,9,-7,8,-9,7,-8,9,-7,8,-9,7,-8,9,-7,8,-9,7,-8];

const trace_S4BA9 = [
4,-3,5,-4,3,-5,4,-3,5,-4,3,-4,5,-3,4,-5,3,-4,4,-3,
5,-4,3,-5,4,-3,5,-4,3,-5,4,-3,5,-4,3,-4,8,-9,9,-8,
9,-8,7,-9,8,-6,5,-4,3,-5,4,-3,5,-4,3,-5,4,-3,5,-4,
4,-5,3,-4,5,-3,4,-5,3,-4,5,-4,3,-5,4,-3,5,-4,3,-5,
5,-3,4,-5,3,-4,5,-3,4,-5,3,-4,5,-4,3,-5,4,-3,11,-12,
11,-13,30,-28,32,-29,31,-33,28,-30,32,-29,30,-34,65,-60,70,-66,75,-72,
72,-78,75,-70,80,-76,74,-80,78,-72,100,-95,105,-100,143,-156,82,-78,80,-76,
76,-72,78,-74,70,-76,74,-70,72,-75,70,-68,60,-58,62,-56,58,-60,57,-62,
60,-58,62,-57,59,-61,100,-85,80,-60,58,-56,46,-44,45,-48,43,-46,44,-42,
45,-43,46,-44,75,-78,80,-72,76,-74,78,-70,72,-76,74,-70,73,-75,70,-72,
80,-78,82,-85,84,-80,78,-82,85,-80,70,-68,72,-66,68,-70,66,-72,70,-65,
66,-70,68,-64,40,-38,39,-37,36,-38,37,-35,38,-36,35,-37,36,-38,37,-35,
38,-36,37,-39,36,-38,35,-37,38,-36,37,-35,36,-38,35,-37,38,-36,37,-35,
40,-38,42,-40,70,-68,30,-28,29,-27,28,-30,27,-29,28,-26,29,-27,26,-28,
28,-26,27,-29,26,-28,27,-25,28,-27,26,-28,27,-25,26,-28,27,-26,28,-25,
35,-38,37,-36,38,-35,36,-38,37,-35,38,-36,37,-35,44,-42,40,-36,38,-35,
22,-20,21,-23,20,-22,21,-19,20,-22,44,-42,40,-22,20,-19,21,-20,19,-21,
20,-18,19,-21,18,-20,19,-17,20,-19,18,-20,19,-17,18,-20,19,-18,17,-19,
18,-16,17,-18,16,-17,18,-15,17,-16,15,-17,16,-15,17,-16,15,-17,16,-15,
23,-24,22,-15,14,-13,15,-14,13,-15,14,-13,15,-12,14,-13,12,-14,13,-12,
12,-11,10,-12,11,-10,12,-11,10,-12,11,-10,12,-11,10,-12,11,-10,12,-11,
11,-10,12,-11,10,-18,19,-17,12,-10,11,-12,10,-11,12,-10,11,-12,10,-11,
10,-11,9,-10,11,-9,10,-11,9,-10,11,-9,10,-11,9,-10,11,-9,10,-11,
9,-10,11,-9,10,-11,9,-10,11,-9,10,-11,9,-10,11,-9,10,-11,9,-10,
10,-9,11,-10,9,-11,10,-9,11,-10,9,-11,10,-9,11,-10,9,-11,10,-9,
11,-10,9,-11,10,-9,11,-10,9,-11,10,-9,11,-10,9,-11,10,-9,11,-10,
9,-11,10,-9,11,-10,9,-11,10,-9,11,-10,9,-11,10,-9,11,-10,9,-11,
10,-9,11,-10,9,-11,10,-9,11,-10,9,-11,10,-9,11,-10,9,-11,10,-9,
11,-10,9,-11,10,-9,11,-10,9,-11,10,-9,11,-10,9,-11,10,-9,11,-10,
9,-11,10,-9,11,-10,9,-11,10,-9,11,-10,9,-11,10,-9,11,-10,9,-11];

const trace_R0353 = [
5,-4,3,-5,4,-3,5,-4,3,-5,4,-3,5,-4,3,-4,5,-3,4,-5,
4,-3,5,-4,3,-5,4,-3,5,-4,3,-4,5,-3,4,-5,3,-4,4,-3,
3,-4,5,-3,4,-5,3,-4,5,-4,3,-5,4,-3,5,-4,3,-5,4,-3,
5,-3,4,-5,3,-4,5,-3,4,-5,3,-4,5,-4,3,-5,4,-3,5,-4,
4,-5,3,-4,5,-3,4,-5,3,-4,5,-4,3,-5,4,-3,5,-4,11,-12,
12,-11,36,-38,40,-35,38,-40,37,-39,35,-38,40,-36,75,-72,78,-74,76,-80,
75,-78,80,-74,108,-100,76,-72,78,-74,85,-80,88,-84,123,-130,70,-68,72,-66,
70,-68,72,-66,68,-70,66,-72,70,-65,68,-70,55,-52,56,-54,52,-57,55,-53,
54,-56,52,-55,56,-123,146,-90,60,-45,42,-40,43,-41,40,-44,42,-39,41,-43,
42,-40,43,-41,40,-44,42,-39,41,-43,40,-42,44,-40,41,-43,39,-42,43,-40,
41,-39,42,-40,38,-43,41,-39,40,-42,39,-41,43,-38,40,-42,38,-41,42,-39,
40,-38,41,-39,37,-42,40,-38,39,-41,38,-40,42,-37,39,-41,37,-40,41,-38,
38,-36,39,-37,35,-40,38,-36,37,-39,36,-38,40,-35,37,-39,35,-38,39,-36,
36,-34,37,-35,33,-38,36,-34,35,-37,34,-36,38,-33,35,-37,33,-36,37,-34,
34,-32,35,-33,31,-36,34,-32,33,-35,32,-34,36,-31,33,-35,31,-34,35,-32,
34,-32,35,-33,31,-36,34,-32,33,-35,32,-34,22,-20,21,-23,20,-22,21,-19,
22,-20,21,-23,20,-22,21,-19,22,-21,20,-22,21,-19,20,-22,21,-20,19,-21,
20,-18,19,-21,18,-20,19,-17,20,-19,18,-20,19,-17,18,-20,19,-18,17,-19,
14,-13,12,-14,13,-12,14,-13,12,-14,13,-12,14,-13,12,-14,13,-12,14,-13,
12,-14,13,-12,14,-13,18,-19,17,-14,13,-12,14,-13,12,-14,13,-12,14,-13,
13,-12,14,-13,12,-14,13,-12,14,-13,12,-15,16,-14,13,-12,14,-13,12,-14,
12,-13,11,-12,13,-11,12,-13,11,-12,13,-11,12,-13,11,-12,13,-11,12,-13,
11,-12,13,-11,12,-13,11,-12,13,-11,12,-13,11,-12,13,-11,12,-13,11,-12,
13,-11,12,-13,11,-12,13,-11,12,-13,11,-12,13,-11,12,-13,11,-12,13,-11,
12,-13,11,-12,13,-11,12,-13,11,-12,13,-11,12,-13,11,-12,13,-11,12,-13,
11,-12,13,-11,12,-13,11,-12,13,-11,12,-13,11,-12,13,-11,12,-13,11,-12,
13,-11,12,-13,11,-12,13,-11,12,-13,11,-12,13,-11,12,-13,11,-12,13,-11,
12,-13,11,-12,13,-11,12,-13,11,-12,13,-11,12,-13,11,-12,13,-11,12,-13,
11,-12,13,-11,12,-13,11,-12,13,-11,12,-13,11,-12,13,-11,12,-13,11,-12,
13,-11,12,-13,11,-12,13,-11,12,-13,11,-12,13,-11,12,-13,11,-12,13,-11];

const traces = [trace_RB5E8,trace_R480A,trace_RD93E,trace_CCA1,trace_RAD67,trace_R303A,trace_R82BD,trace_R9FEE,trace_R7FA5,trace_S4BA9,trace_R0353];

// ---------------- styling ----------------
const FONT = "'DejaVu Sans', 'Liberation Sans', sans-serif";
const TRACE_COLOR = '#1f77b4';
const C_P = 'rgba(31,119,180,0.5)', C_pP = 'rgba(255,127,14,0.5)', C_PP = 'rgba(148,103,189,0.7)', C_PcP = 'rgba(31,119,180,0.2)';
const N = traces.length;

function sci(v) {
  const val = v * AMP_UNIT;
  if (Math.abs(val) < 1e-15) return '0.0e+00';
  const m = val.toExponential(1).match(/^(-?\d\.\d)e([+-])(\d+)$/);
  return m[1] + 'e' + m[2] + m[3].padStart(2, '0');
}

Chart.defaults.font.family = FONT;
Chart.defaults.font.size = 13.9;
Chart.defaults.color = '#000';

const scales = {
  x: {
    type: 'linear', position: 'bottom', min: xMin, max: xMax,
    grid: { display: false, drawTicks: false }, border: { display: false },
    ticks: { padding: 6, autoSkip: false, maxRotation: 0, color: '#000', font: { size: 13.9 }, callback: v => String(v) },
    afterBuildTicks: ax => { ax.ticks = xTickValues.map(v => ({ value: v })); },
    afterFit: ax => { ax.height = 30; }
  }
};
for (let i = 0; i < N; i++) {
  scales['y' + i] = {
    type: 'linear', position: 'left', stack: 'traces', stackWeight: 1, weight: N - i, offset: false,
    min: -yLimits[i], max: yLimits[i],
    grid: { display: false, drawTicks: false }, border: { display: false },
    ticks: { padding: 5.6, autoSkip: false, color: '#000', font: { size: 13.9 }, callback: v => sci(v) },
    afterBuildTicks: ax => { ax.ticks = yTickValues[i].map(v => ({ value: v })); },
    afterFit: ax => { ax.width = 152.3; }
  };
}

const datasets = traces.map((tr, i) => ({
  label: codes[i],
  data: tr.map((v, k) => ({ x: T0 + k * DT, y: v })),
  yAxisID: 'y' + i, xAxisID: 'x',
  borderColor: TRACE_COLOR, borderWidth: 1.2, pointRadius: 0, tension: 0, fill: false
}));

const overlay = {
  id: 'overlay',
  afterDatasetsDraw(chart) {
    const ctx = chart.ctx, xs = chart.scales.x;
    ctx.save();
    for (let i = 0; i < N; i++) {
      const ys = chart.scales['y' + i];
      const phases = [
        [P_first[i], 'P', C_P], [P_second[i], 'P', C_P], [P_third[i], 'P', C_P],
        [pP_first[i], 'pP', C_pP], [pP_second[i], 'pP', C_pP], [pP_third[i], 'pP', C_pP],
        [PP_times[i], 'PP', C_PP], [PcP_times[i], 'PcP', C_PcP]
      ];
      ctx.lineWidth = 2.08;
      ctx.setLineDash([7.7, 3.3]);
      for (const [t, , col] of phases) {
        const x = xs.getPixelForValue(t);
        ctx.strokeStyle = col;
        ctx.beginPath(); ctx.moveTo(x, ys.bottom); ctx.lineTo(x, ys.top); ctx.stroke();
      }
      ctx.setLineDash([]);
      ctx.font = '16.7px ' + FONT;
      ctx.textAlign = 'right'; ctx.textBaseline = 'alphabetic';
      for (const [t, name, col] of phases) {
        const x = xs.getPixelForValue(t);
        ctx.fillStyle = col;
        ctx.fillText(name, x - 4, ys.bottom - 3);
      }
    }
    ctx.restore();
  },
  afterDraw(chart) {
    const ctx = chart.ctx, xs = chart.scales.x, ca = chart.chartArea;
    ctx.save();
    const L = ca.left, R = ca.right, TL = 4.9;
    for (let i = 0; i < N; i++) {
      const ys = chart.scales['y' + i];
      const top = ys.top, bot = ys.bottom;
      ctx.strokeStyle = '#000'; ctx.lineWidth = 1.1;
      ctx.strokeRect(L, top, R - L, bot - top);
      ctx.beginPath();
      for (const v of xTickValues) {
        const x = xs.getPixelForValue(v);
        ctx.moveTo(x, top); ctx.lineTo(x, top + TL);
        ctx.moveTo(x, bot); ctx.lineTo(x, bot - TL);
      }
      for (const v of yTickValues[i]) {
        const y = ys.getPixelForValue(v);
        ctx.moveTo(L, y); ctx.lineTo(L + TL, y);
        ctx.moveTo(R, y); ctx.lineTo(R - TL, y);
      }
      ctx.stroke();
      ctx.fillStyle = '#000'; ctx.font = '13.9px ' + FONT;
      ctx.textAlign = 'left'; ctx.textBaseline = 'alphabetic';
      ctx.fillText(codes[i] + ' ' + distances[i] + '\u00b0 ' + places[i], L + 17, top + 14);
    }
    // title
    ctx.fillStyle = '#000'; ctx.font = '13.9px ' + FONT; ctx.textAlign = 'center';
    const tb = [22, 37.8, 53.6];
    titleLines.forEach((s, k) => ctx.fillText(s, 950, tb[k]));
    // x label
    ctx.fillText('Time since earthquake [s]', 950.6, 1086);
    // channel info
    ctx.textAlign = 'left';
    ctx.fillText('Channel: EHZ, filter: "bandpass", freqmin=1.3, freqmax=3.3, corners=4', 20, 1086);
    // arrivals
    ctx.fillText(arrivalsTitle, 1521, 1056.7);
    ctx.fillStyle = TRACE_COLOR;
    arrivalTimes.forEach((s, k) => ctx.fillText('P time: ' + s + 's', 1521, 1070.7 + k * 13.3));
    // y label
    ctx.save();
    ctx.fillStyle = '#000';
    ctx.translate(18.2, 551); ctx.rotate(-Math.PI / 2);
    ctx.textAlign = 'center'; ctx.textBaseline = 'middle';
    ctx.fillText('Velocity [m/s]', 0, 0);
    ctx.restore();
    ctx.restore();
  }
};

new Chart(document.getElementById('c'), {
  type: 'line',
  data: { datasets },
  options: {
    responsive: false, animation: false, devicePixelRatio: 1,
    parsing: true, normalized: true,
    layout: { padding: { left: 0, right: 76, top: 88.5, bottom: 57.7 } },
    plugins: { legend: { display: false }, tooltip: { enabled: false }, title: { display: false } },
    scales
  },
  plugins: [overlay]
});
</script></body></html>
